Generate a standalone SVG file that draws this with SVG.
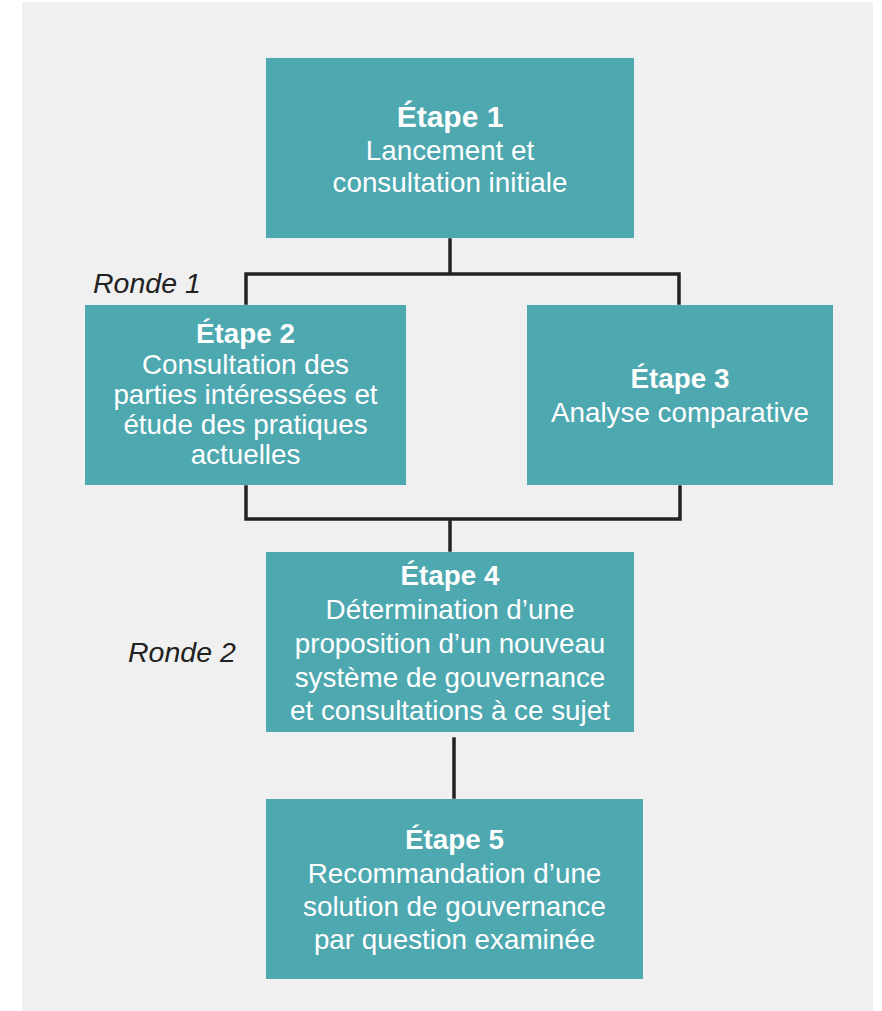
<svg xmlns="http://www.w3.org/2000/svg" width="882" height="1011" viewBox="0 0 882 1011">
<style>
.box{fill:#4ea8b0}
.t{font-family:"Liberation Sans",Arial,sans-serif;font-size:27.8px;fill:#ffffff;text-anchor:middle}
.b{font-weight:bold}
.r{font-family:"Liberation Sans",Arial,sans-serif;font-size:28.5px;font-style:italic;fill:#222222}
.c{fill:none;stroke:#222222;stroke-width:3.5;stroke-linecap:square}
</style>
<rect x="0" y="0" width="882" height="1011" fill="#ffffff"/>
<rect x="22" y="2" width="851" height="1009" fill="#f0f0f0"/>
<g id="connectors">
<path class="c" d="M450,240 V274 M246,303 V274 H679 V303"/>
<path class="c" d="M246,487 V519 H680 V487 M450,519 V550"/>
<path class="c" d="M454,739 V797"/>
</g>
<g id="etape1">
<rect class="box" x="266" y="58" width="368" height="180"/>
<text class="t b" x="450" y="127" style="font-size:30px">Étape 1</text>
<text class="t" x="450" y="160">Lancement et</text>
<text class="t" x="450" y="192">consultation initiale</text>
</g>
<g id="ronde1"><text class="r" x="93" y="293">Ronde 1</text></g>
<g id="etape2">
<rect class="box" x="85" y="305" width="321" height="180"/>
<text class="t b" x="245.5" y="343">Étape 2</text>
<text class="t" x="245.5" y="374">Consultation des</text>
<text class="t" x="245.5" y="404">parties intéressées et</text>
<text class="t" x="245.5" y="434">étude des pratiques</text>
<text class="t" x="245.5" y="464">actuelles</text>
</g>
<g id="etape3">
<rect class="box" x="527" y="305" width="306" height="180"/>
<text class="t b" x="680" y="388">Étape 3</text>
<text class="t" x="680" y="422">Analyse comparative</text>
</g>
<g id="ronde2"><text class="r" x="128" y="662">Ronde 2</text></g>
<g id="etape4">
<rect class="box" x="266" y="552" width="368" height="180"/>
<text class="t b" x="450" y="585">Étape 4</text>
<text class="t" x="450" y="619">Détermination d’une</text>
<text class="t" x="450" y="653">proposition d’un nouveau</text>
<text class="t" x="450" y="687">système de gouvernance</text>
<text class="t" x="450" y="720">et consultations à ce sujet</text>
</g>
<g id="etape5">
<rect class="box" x="266" y="799" width="377" height="180"/>
<text class="t b" x="454.5" y="849">Étape 5</text>
<text class="t" x="454.5" y="883">Recommandation d’une</text>
<text class="t" x="454.5" y="916">solution de gouvernance</text>
<text class="t" x="454.5" y="949">par question examinée</text>
</g>
</svg>
